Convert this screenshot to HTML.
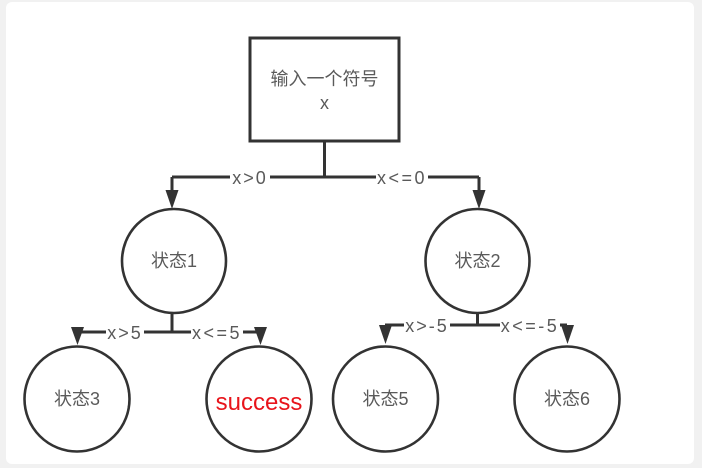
<!DOCTYPE html>
<html>
<head>
<meta charset="utf-8">
<style>
html,body{margin:0;padding:0;}
body{width:702px;height:468px;overflow:hidden;background:#f1f1f1;}
svg{display:block;}
text{font-family:"Liberation Sans","Noto Sans CJK SC",sans-serif;}
</style>
</head>
<body>
<svg width="702" height="468" viewBox="0 0 702 468" xmlns="http://www.w3.org/2000/svg">
  <rect x="0" y="0" width="702" height="468" fill="#f1f1f1"/>
  <rect x="6" y="2" width="688" height="462" rx="6" fill="#ffffff"/>

  <g stroke="#333" stroke-width="3" fill="none">
    <rect x="250" y="38" width="149" height="103" fill="#fff"/>
    <path d="M324.5 141 V177 M172 177 H479 M172 177 V192 M479 177 V192"/>
    <path d="M172 313 V332 M77 332 H260"/>
    <path d="M477.5 313 V325 M385 325 H567"/>
  </g>
  <g stroke="#333" stroke-width="2.6" fill="#fff">
    <circle cx="174" cy="261" r="52"/>
    <circle cx="477.5" cy="261" r="52"/>
    <circle cx="77" cy="399" r="52.5"/>
    <circle cx="259" cy="399" r="52.5"/>
    <circle cx="385.5" cy="399" r="52.5"/>
    <circle cx="567" cy="399" r="52.5"/>
  </g>

  <g fill="#333">
    <polygon points="165.5,190 178.5,190 172,209"/>
    <polygon points="472.5,190 485.5,190 479,209"/>
    <polygon points="71,327 84,327 77.5,345"/>
    <polygon points="254,327 267,327 260.5,345"/>
    <polygon points="379,325 392,325 385.5,344"/>
    <polygon points="561,325 574,325 567.5,344"/>
  </g>

  <g font-size="18" fill="#5a5a5a">
    <rect x="230" y="168" width="40" height="18" fill="#fff"/>
    <text x="250" y="184" text-anchor="middle" letter-spacing="2">x&gt;0</text>
    <rect x="376" y="168" width="52" height="18" fill="#fff"/>
    <text x="402" y="184" text-anchor="middle" letter-spacing="2.5">x&lt;=0</text>

    <rect x="106" y="323" width="38" height="18" fill="#fff"/>
    <text x="125" y="339" text-anchor="middle" letter-spacing="2">x&gt;5</text>
    <rect x="191" y="323" width="52" height="18" fill="#fff"/>
    <text x="217" y="339" text-anchor="middle" letter-spacing="2.5">x&lt;=5</text>

    <rect x="404" y="316" width="46" height="18" fill="#fff"/>
    <text x="427" y="332" text-anchor="middle" letter-spacing="2">x&gt;-5</text>
    <rect x="500" y="316" width="60" height="18" fill="#fff"/>
    <text x="530" y="332" text-anchor="middle" letter-spacing="2.5">x&lt;=-5</text>
  </g>

  <g font-size="18" fill="#5a5a5a" text-anchor="middle">
    <text x="324.5" y="85">输入一个符号</text>
    <text x="324.5" y="109">x</text>
    <text x="174" y="267">状态1</text>
    <text x="477.5" y="267">状态2</text>
    <text x="77" y="405">状态3</text>
    <text x="385.5" y="405">状态5</text>
    <text x="567" y="405">状态6</text>
  </g>
  <text x="259" y="410" font-size="24" fill="#e8141b" text-anchor="middle">success</text>
</svg>
</body>
</html>
